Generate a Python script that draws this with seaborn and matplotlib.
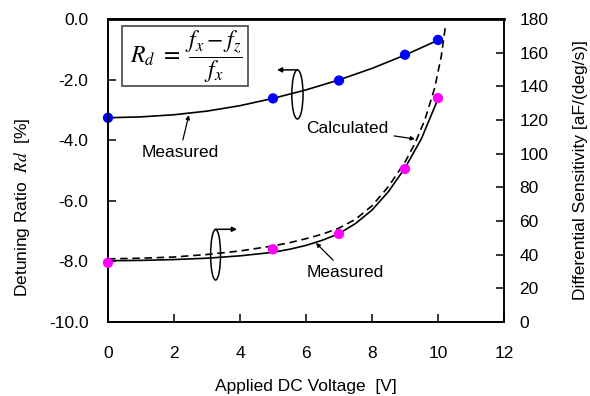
import numpy as np
import pandas as pd
import matplotlib
matplotlib.use('Agg')
import matplotlib.pyplot as plt
from matplotlib.patches import Ellipse, Rectangle
import seaborn as sns

# measured points
volt_pts = [0, 5, 7, 9, 10]
rd_pts = [-3.26, -2.62, -2.03, -1.18, -0.69]
sens_pts = [35.2, 43.2, 52.3, 90.9, 133.0]

# fitted / calculated curves
rd_curve_x = [0, 1, 2, 3, 4, 5, 6, 7, 8, 9, 10]
rd_curve_y = [-3.26, -3.23, -3.16, -3.04, -2.86, -2.62, -2.34, -2.01, -1.63, -1.19, -0.70]

meas_curve_x = [0, 1, 2, 3, 4, 5, 5.5, 6, 6.5, 7, 7.5, 8, 8.5, 9, 9.5, 10]
meas_curve_y = [36.4, 36.6, 37.1, 37.9, 39.3, 41.4, 43.2, 45.5, 48.6, 52.5, 58.5, 66.5, 77.5,
                91.5, 109.0, 132.5]

calc_curve_x = [0, 1, 2, 3, 4, 5, 5.5, 6, 6.5, 7, 7.5, 8, 8.5, 9, 9.3, 9.6, 9.9, 10.1, 10.22]
calc_curve_y = [37.5, 37.9, 38.6, 40.1, 42.2, 45.2, 47.1, 49.5, 52.2, 55.8, 61.0, 69.0, 80.5,
                95.0, 106.0, 120.0, 139.0, 158.0, 175.0]

sns.set_theme(style='ticks')
plt.rcParams['font.family'] = ['Liberation Sans', 'DejaVu Sans']
plt.rcParams['mathtext.fontset'] = 'stix'
plt.rcParams['text.color'] = 'black'
plt.rcParams['xtick.color'] = 'black'
plt.rcParams['ytick.color'] = 'black'
plt.rcParams['axes.labelcolor'] = 'black'

fig = plt.figure(figsize=(5.9, 3.96), dpi=100)
ax = fig.add_axes([108/590, 74/396, 396/590, 303/396])
ax2 = ax.twinx()

# left axis: detuning ratio
sns.lineplot(x=rd_curve_x, y=rd_curve_y, ax=ax, color='black', linewidth=1.2)
sns.scatterplot(x=volt_pts, y=rd_pts, ax=ax, color='#0000ff', s=55, edgecolor='none',
                zorder=5, clip_on=False)

# right axis: sensitivity
sns.lineplot(x=meas_curve_x, y=meas_curve_y, ax=ax2, color='black', linewidth=1.2)
sns.lineplot(x=calc_curve_x, y=calc_curve_y, ax=ax2, color='black', linewidth=1.2,
             linestyle=(0, (4.5, 2.8)))
sns.scatterplot(x=volt_pts, y=sens_pts, ax=ax2, color='#ff00ff', s=55, edgecolor='none',
                zorder=5, clip_on=False)

ax.set_xlim(0, 12)
ax.set_ylim(-10, 0)
ax2.set_ylim(0, 180)
ax.set_xticks(np.arange(0, 13, 2))
ax.set_yticks(np.arange(-10, 0.1, 2))
ax.set_yticklabels([f'{v:.1f}' for v in np.arange(-10, 0.1, 2)])
ax2.set_yticks(np.arange(0, 181, 20))

fs = 12.5
ax.tick_params(axis='x', direction='in', length=6, width=1.1, pad=17, labelsize=fs,
               bottom=True, top=False, colors='black')
ax.tick_params(axis='y', direction='in', length=6, width=1.1, pad=14, labelsize=fs,
               left=True, right=False, colors='black')
ax2.tick_params(axis='y', direction='in', length=6, width=1.1, pad=11, labelsize=fs,
                right=True, left=False, colors='black')
for a in (ax, ax2):
    for sp in a.spines.values():
        sp.set_color('black')
        sp.set_linewidth(1.2)
ax2.spines['top'].set_linewidth(2)

ax.set_xlabel('Applied DC Voltage  [V]', fontsize=fs, labelpad=13)
ax.set_ylabel('')
fig.text(22/590, 1 - 207/396, r'Detuning Ratio  $Rd$  [%]', rotation=90, fontsize=fs,
         ha='center', va='center')
ax2.set_ylabel('Differential Sensitivity [aF/(deg/s)]', fontsize=fs, labelpad=18)

# formula box
ax.add_patch(Rectangle((0.035, 0.779), 0.319, 0.198, transform=ax.transAxes,
                       facecolor='white', edgecolor='#555555', linewidth=1.3, zorder=6))
ax.text(0.197, 0.874, r'$R_d\ =\ \dfrac{f_x - f_z}{f_x}$', transform=ax.transAxes,
        fontsize=17, ha='center', va='center', zorder=7)

# ellipses with direction arrows
ax.add_patch(Ellipse((5.74, -2.49), 0.34, 1.62, fill=False, edgecolor='black', linewidth=1.1))
ax.annotate('', xy=(5.12, -1.68), xytext=(5.74, -1.68),
            arrowprops=dict(arrowstyle='-|>', color='black', lw=1.1, mutation_scale=7,
                            shrinkA=0, shrinkB=0))
ax.add_patch(Ellipse((3.26, -7.78), 0.30, 1.67, fill=False, edgecolor='black', linewidth=1.1))
ax.annotate('', xy=(3.91, -6.94), xytext=(3.26, -6.94),
            arrowprops=dict(arrowstyle='-|>', color='black', lw=1.1, mutation_scale=7,
                            shrinkA=0, shrinkB=0))

# labels with leader arrows
ax.annotate('Measured', xy=(2.45, -3.17), xytext=(2.18, -4.39), fontsize=fs,
            ha='center', va='center',
            arrowprops=dict(arrowstyle='-|>', color='black', lw=0.9, mutation_scale=6,
                            shrinkA=1, shrinkB=0))
ax.annotate('Calculated', xy=(9.30, -3.96), xytext=(7.24, -3.63), fontsize=fs,
            ha='center', va='center',
            arrowprops=dict(arrowstyle='-|>', color='black', lw=0.9, mutation_scale=6,
                            shrinkA=2, shrinkB=0))
ax.annotate('Measured', xy=(6.30, -7.39), xytext=(7.18, -8.35), fontsize=fs,
            ha='center', va='center',
            arrowprops=dict(arrowstyle='-|>', color='black', lw=0.9, mutation_scale=6,
                            shrinkA=1, shrinkB=0))

fig.savefig('out.png', dpi=100, facecolor='white')
